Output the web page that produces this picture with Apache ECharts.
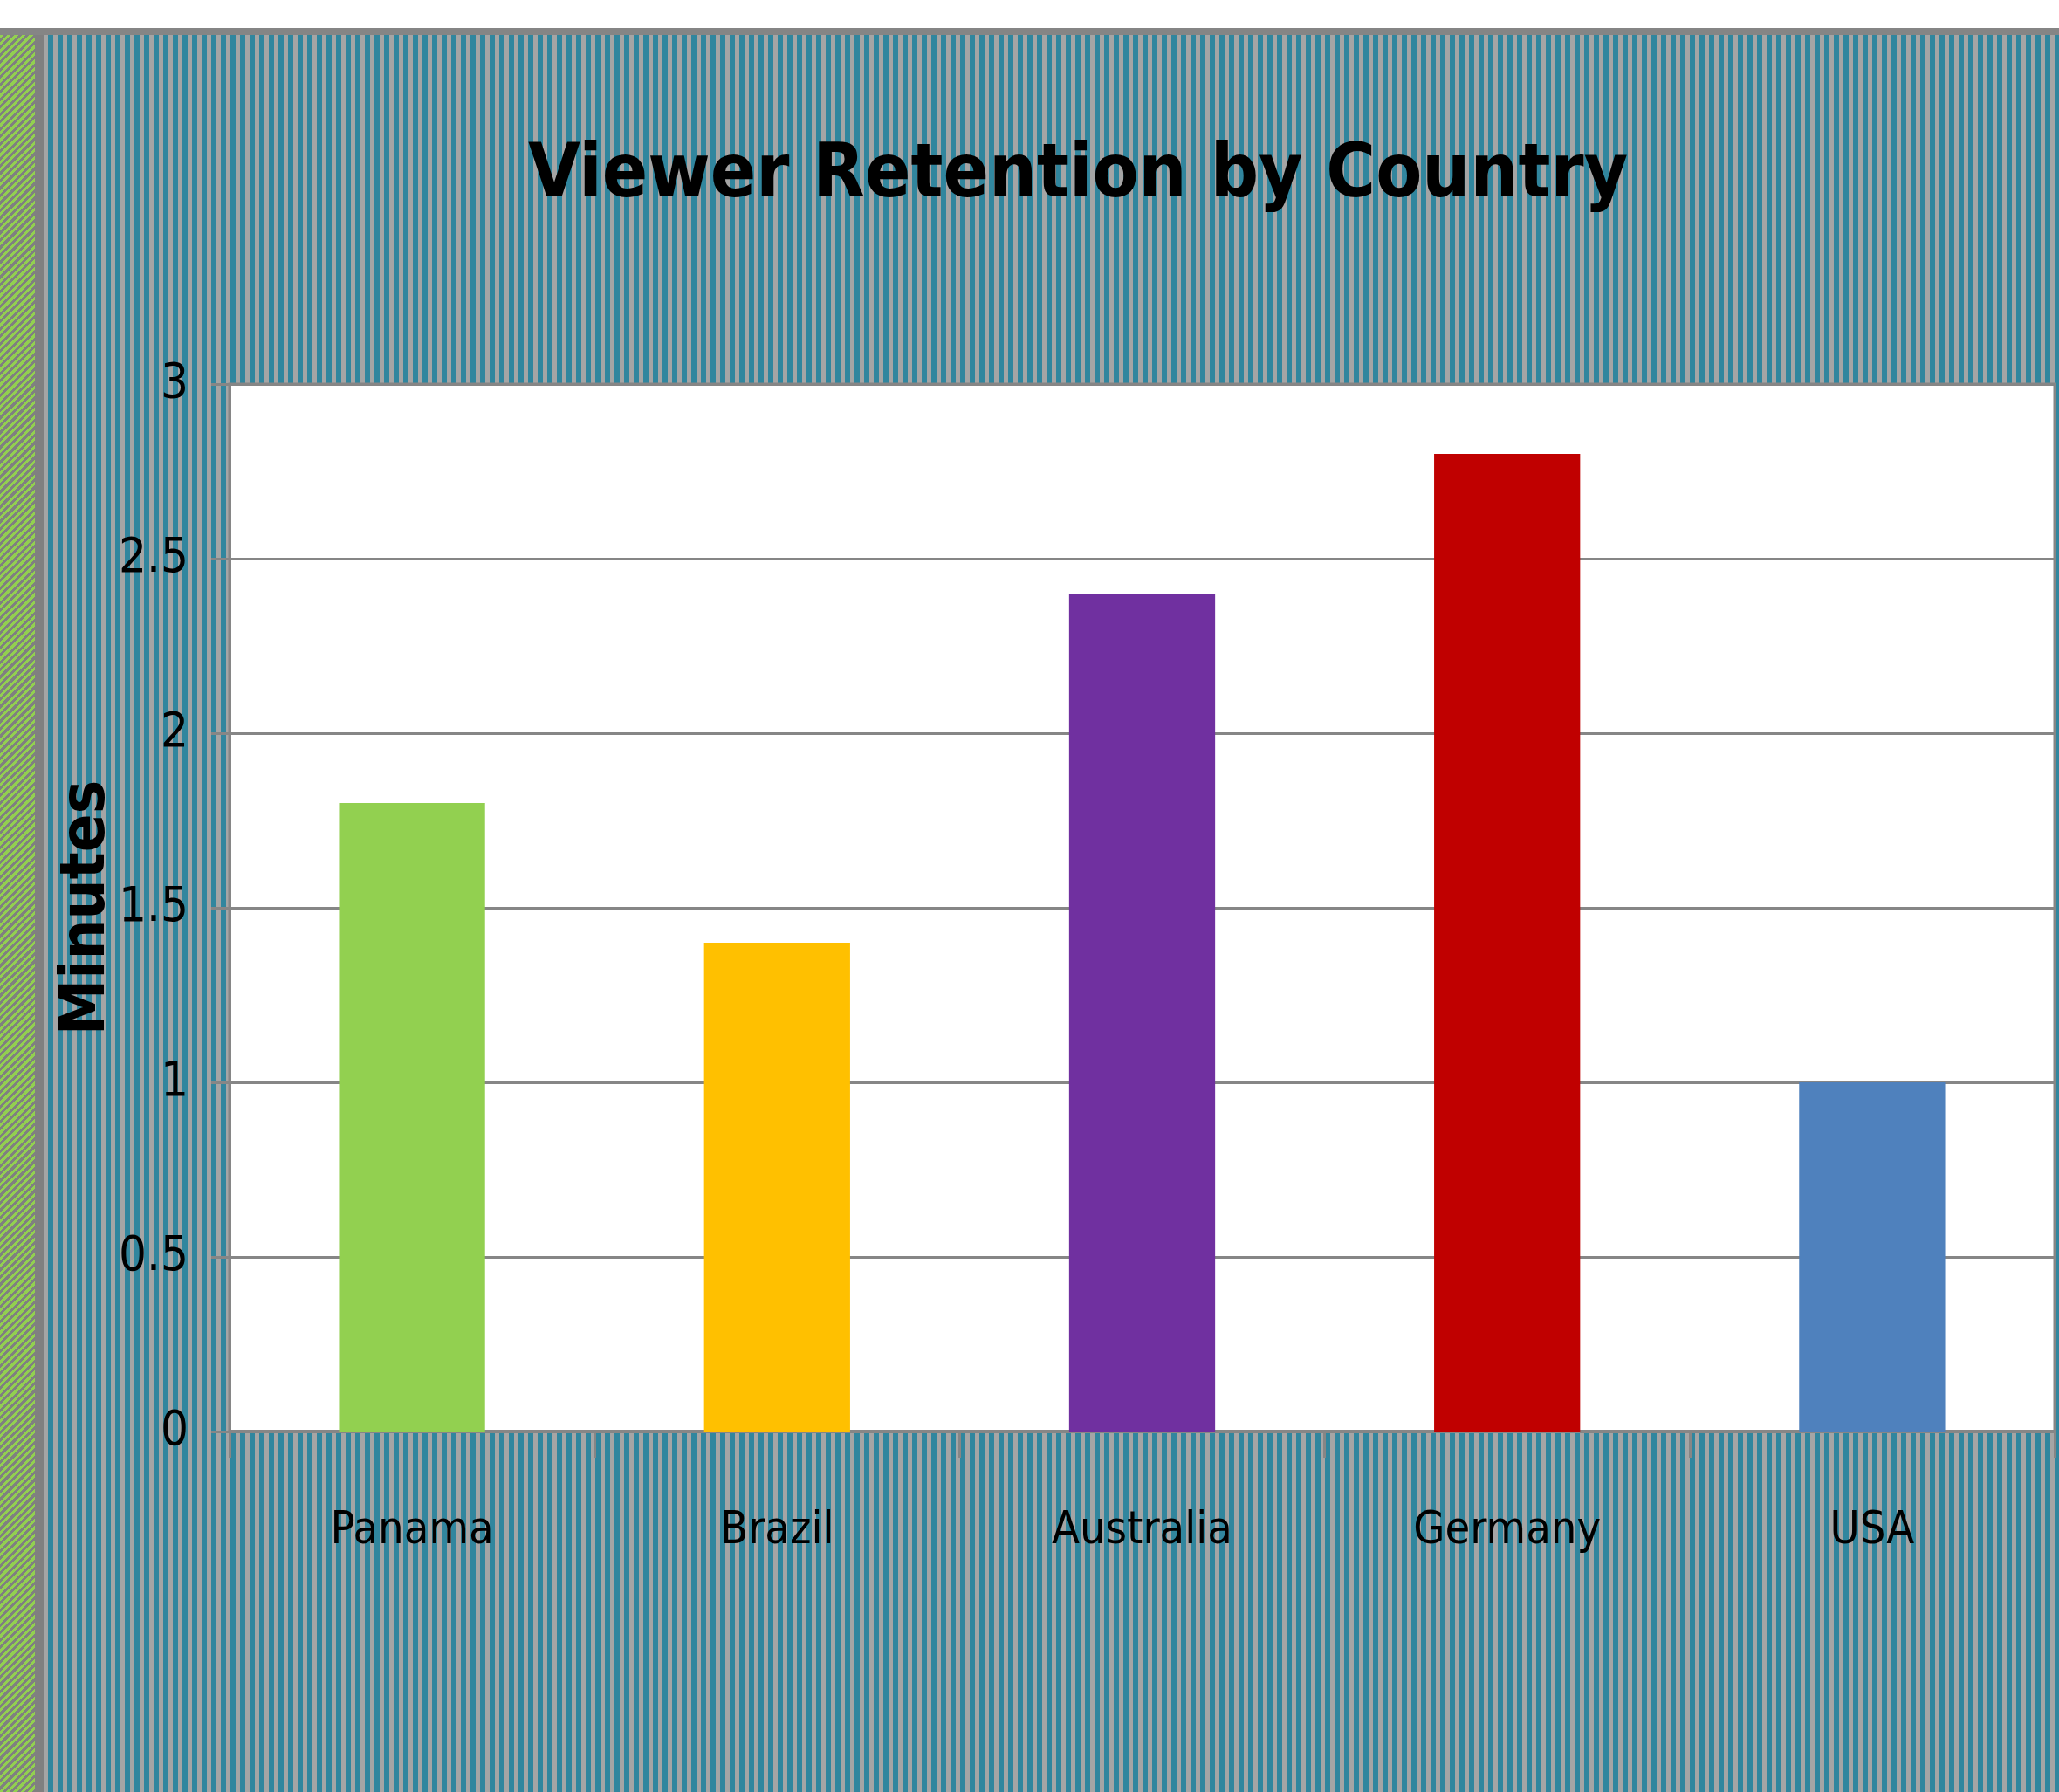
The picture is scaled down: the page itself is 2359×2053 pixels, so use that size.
<!DOCTYPE html>
<html>
<head>
<meta charset="utf-8">
<script src="https://cdn.jsdelivr.net/npm/echarts@6/dist/echarts.min.js"></script>
<style>
  html, body { margin: 0; padding: 0; background: #ffffff; }
  #wrap { position: relative; width: 2359px; height: 2053px; overflow: hidden; background: #ffffff; }
  #topband { position: absolute; left: 0; top: 32px; width: 2359px; height: 8px; background: #858585; }
  #green { position: absolute; left: 0; top: 40px; width: 40px; height: 2013px;
    background: repeating-linear-gradient(135deg, #92D050 0px, #92D050 3px, #808080 3px, #808080 6px); }
  #leftband { position: absolute; left: 40px; top: 40px; width: 10px; height: 2013px; background: #808080; }
  #stripes { position: absolute; left: 50px; top: 40px; width: 2309px; height: 2013px;
    background: repeating-linear-gradient(90deg, #A5A5A5 0px, #A5A5A5 5px, #31869E 5px, #31869E 11px); }
  #chart { position: absolute; left: 0; top: 0; width: 2359px; height: 2053px; }
</style>
</head>
<body>
<div id="wrap">
  <div id="topband"></div>
  <div id="green"></div>
  <div id="leftband"></div>
  <div id="stripes"></div>
  <div id="chart"></div>
</div>
<script>
const titleText = 'Viewer Retention by Country';
const categories = ['Panama', 'Brazil', 'Australia', 'Germany', 'USA'];
const minutes = [1.8, 1.4, 2.4, 2.8, 1.0];
const barColors = ['#92D050', '#FFC000', '#7030A0', '#C00000', '#4F81BD'];
const yAxisName = 'Minutes';

const narrow = "'Liberation Sans Narrow', 'DejaVu Sans Condensed', 'Arial Narrow', sans-serif";
const chart = echarts.init(document.getElementById('chart'), null, { renderer: 'canvas' });
chart.setOption({
  backgroundColor: 'transparent',
  animation: false,
  title: {
    text: titleText,
    left: 1230,
    top: 155,
    textAlign: 'center',
    textStyle: { fontFamily: narrow, fontWeight: 'bold', fontSize: 86, color: '#000000', lineHeight: 86 }
  },
  grid: {
    left: 263, top: 440, right: 5, bottom: 2053 - 1640,
    show: true, backgroundColor: '#ffffff', borderColor: '#868686', borderWidth: 3,
    containLabel: false
  },
  xAxis: {
    type: 'category',
    data: categories,
    axisLine: { show: true, lineStyle: { color: '#868686', width: 4 } },
    axisTick: { show: true, alignWithLabel: false, length: 30, lineStyle: { color: '#868686', width: 3 } },
    axisLabel: { margin: 88, fontFamily: narrow, fontSize: 52, color: '#000000' },
    splitLine: { show: false }
  },
  yAxis: {
    type: 'value',
    min: 0, max: 3, interval: 0.5,
    name: yAxisName,
    nameLocation: 'middle',
    nameGap: 127,
    nameRotate: 90,
    nameMoveOverlap: false,
    nameTextStyle: { fontFamily: narrow, fontWeight: 'bold', fontSize: 72, color: '#000000' },
    axisLine: { show: true, lineStyle: { color: '#868686', width: 3 } },
    axisTick: { show: true, length: 21, lineStyle: { color: '#868686', width: 3 } },
    axisLabel: { margin: 47, fontFamily: narrow, fontSize: 56, color: '#000000' },
    splitLine: { show: true, lineStyle: { color: '#868686', width: 3 } }
  },
  series: [{
    type: 'bar',
    data: minutes.map((v, i) => ({ value: v, itemStyle: { color: barColors[i] } })),
    barWidth: '40%'
  }]
});
</script>
</body>
</html>
